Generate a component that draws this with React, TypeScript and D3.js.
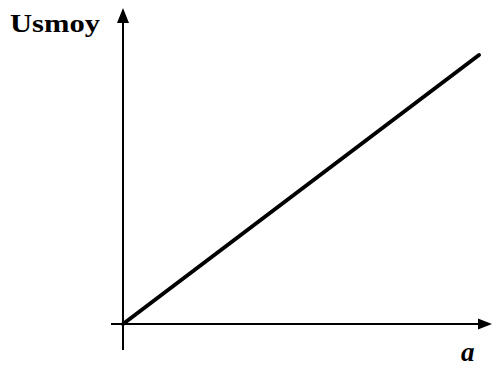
import React from "react";
import * as d3 from "d3";

const aValues = [0, 1];
const usmoyValues = [0, 1];
const yLabel = "Usmoy";
const xLabel = "a";

export default function App() {
  const W = 493, H = 368;
  const x = d3.scaleLinear().domain([0, 1]).range([123, 479]);
  const y = d3.scaleLinear().domain([0, 1]).range([324, 55]);
  const line = d3.line<number>().x((d, i) => x(aValues[i])).y((d) => y(d));
  const x0 = x(0), y0 = y(0);
  return (
    <svg width={W} height={H} style={{ position: "absolute", left: 0, top: 0, background: "#fff" }}>
      {/* y axis */}
      <line x1={x0} y1={350} x2={x0} y2={18} stroke="#000" strokeWidth={2} />
      <path d={`M${x0},8 L${x0 - 6},23 L${x0 + 6},23 Z`} fill="#000" />
      {/* x axis */}
      <line x1={111} y1={y0} x2={484} y2={y0} stroke="#000" strokeWidth={1.8} />
      <path d={`M492,${y0} L478,${y0 - 5.5} L478,${y0 + 5.5} Z`} fill="#000" />
      {/* data line */}
      <path d={line(usmoyValues) || ""} fill="none" stroke="#000" strokeWidth={4} strokeLinecap="round" />
      <text x={10} y={32} fontFamily="'Liberation Serif', serif" fontWeight="bold" fontSize={26} textLength={90} lengthAdjust="spacingAndGlyphs">{yLabel}</text>
      <text x={461} y={361} fontFamily="'Liberation Serif', serif" fontWeight="bold" fontStyle="italic" fontSize={27}>{xLabel}</text>
    </svg>
  );
}
